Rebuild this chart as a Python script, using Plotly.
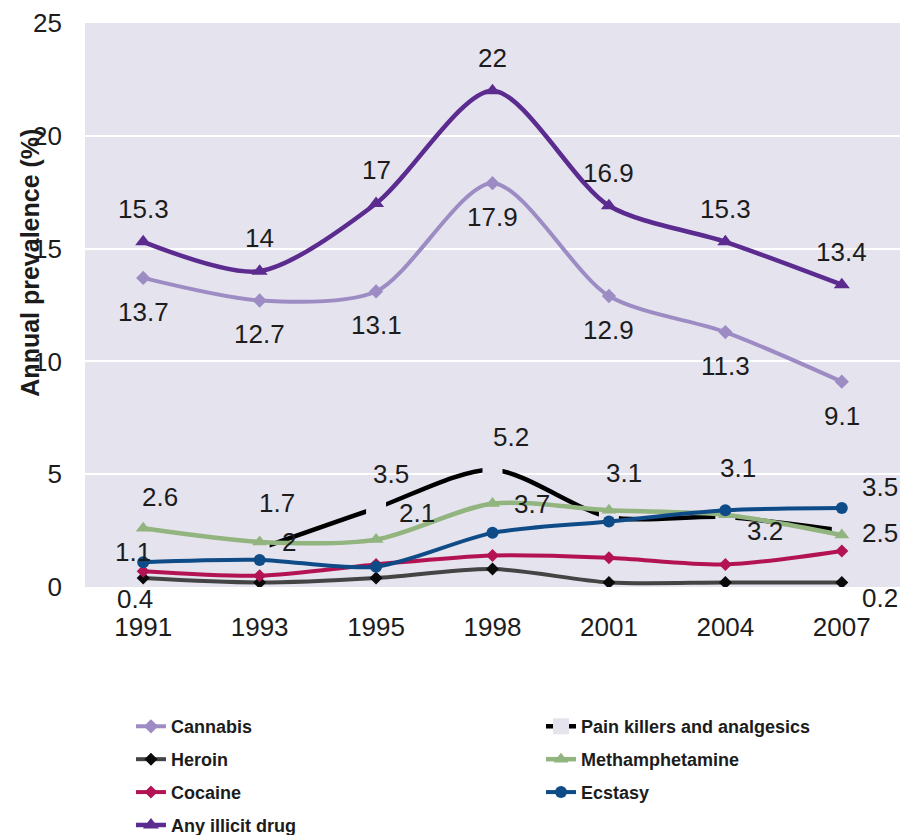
import plotly.graph_objects as go

# Survey years (categorical x axis)
years = ["1991", "1993", "1995", "1998", "2001", "2004", "2007"]

# Annual prevalence (%) by substance
cannabis = [13.7, 12.7, 13.1, 17.9, 12.9, 11.3, 9.1]
pain_killers = [None, 1.7, 3.5, 5.2, 3.1, 3.1, 2.5]
heroin = [0.4, 0.2, 0.4, 0.8, 0.2, 0.2, 0.2]
methamphetamine = [2.6, 2.0, 2.1, 3.7, 3.4, 3.2, 2.3]
cocaine = [0.7, 0.5, 1.0, 1.4, 1.3, 1.0, 1.6]
ecstasy = [1.1, 1.2, 0.9, 2.4, 2.9, 3.4, 3.5]
any_illicit = [15.3, 14.0, 17.0, 22.0, 16.9, 15.3, 13.4]

y_ticks = [0, 5, 10, 15, 20, 25]

BG = "#E4E3EE"
TEXT = "#1c1c1c"
FONT = "Liberation Sans, Arial, sans-serif"

# name, values, line colour, marker symbol, marker colour, marker size, line width, legend
series = [
    ("Pain killers and analgesics", pain_killers, "#000000", "square", BG, 20, 4.5, "legend2"),
    ("Cannabis", cannabis, "#9D8CC4", "diamond", "#9D8CC4", 11, 4, "legend"),
    ("Heroin", heroin, "#444444", "diamond", "#0a0a0a", 10, 4, "legend"),
    ("Cocaine", cocaine, "#B31352", "diamond", "#B31352", 10, 4, "legend"),
    ("Methamphetamine", methamphetamine, "#92B47E", "triangle-up", "#92B47E", 13, 4.5, "legend2"),
    ("Ecstasy", ecstasy, "#0F4C87", "circle", "#0F4C87", 12, 4, "legend2"),
    ("Any illicit drug", any_illicit, "#5B2B8F", "triangle-up", "#5B2B8F", 14, 4.5, "legend"),
]

# Data-label placement per series: index -> (dx, dy) pixel offset from the point
label_offsets = {
    "Any illicit drug": {i: (0, -33) for i in range(7)},
    "Cannabis": {i: (0, 34) for i in range(7)},
    "Pain killers and analgesics": {1: (17, -46), 2: (15, -34), 3: (18, -33),
                                    4: (15, -44), 5: (13, -49), 6: (38, 2)},
    "Methamphetamine": {0: (17, -31), 1: (29, 0), 2: (41, -27), 3: (39, 0), 5: (40, 16)},
    "Ecstasy": {0: (-10, -10), 6: (38, -21)},
    "Heroin": {0: (-8, 21), 6: (38, 16)},
}

fig = go.Figure()
annotations = []
for name, vals, lc, sym, mc, ms, lw, leg in series:
    fig.add_trace(go.Scatter(
        x=years, y=vals, name=name, mode="lines+markers",
        line=dict(color=lc, width=lw, shape="spline", smoothing=0.8),
        marker=dict(symbol=sym, color=mc, size=ms, line=dict(width=0)),
        legend=leg, legendgroup=name, hoverinfo="skip",
    ))
    for i, (dx, dy) in label_offsets.get(name, {}).items():
        v = vals[i]
        annotations.append(dict(
            x=i, y=v, xref="x", yref="y", text=f"{v:g}",
            showarrow=False, xshift=dx, yshift=-dy,
            font=dict(family=FONT, size=26, color=TEXT),
        ))

annotations.append(dict(
    x=0, y=0.575, xref="paper", yref="paper", xshift=-55,
    text="<b>Annual prevalence (%)</b>", textangle=-90, showarrow=False,
    xanchor="center", yanchor="middle",
    font=dict(family=FONT, size=25, color=TEXT),
))

legend_style = dict(
    orientation="v", yref="container", y=0.152, yanchor="top", xanchor="left",
    font=dict(family=FONT, size=18, color=TEXT, weight="bold"),
    bgcolor="rgba(0,0,0,0)", tracegroupgap=6.5, traceorder="grouped",
)

fig.update_layout(
    width=905, height=835,
    margin=dict(l=85, r=5, t=23, b=248, autoexpand=False),
    paper_bgcolor="white", plot_bgcolor=BG,
    font=dict(family=FONT, size=26, color=TEXT),
    showlegend=True,
    legend=dict(x=0.0564, **legend_style),
    legend2=dict(x=0.5595, **legend_style),
    annotations=annotations,
)
fig.update_xaxes(
    type="category", categoryorder="array", categoryarray=years,
    range=[-0.5, 6.5], showgrid=False, showline=False, zeroline=False,
    ticks="", ticklabelstandoff=22, tickfont=dict(size=26, color=TEXT),
)
fig.update_yaxes(
    range=[0, 25], tickvals=y_ticks, showgrid=True, gridcolor="white", gridwidth=2,
    zeroline=False, showline=False, ticks="", ticklabelstandoff=22,
    tickfont=dict(size=26, color=TEXT),
)

fig.write_html("out.html")
